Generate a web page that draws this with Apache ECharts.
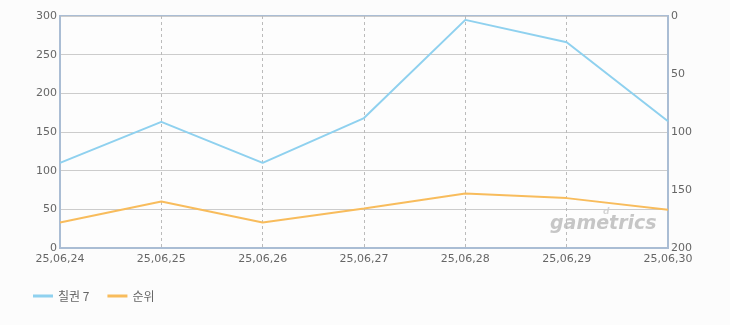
<!DOCTYPE html>
<html><head><meta charset="utf-8">
<script src="https://cdn.jsdelivr.net/npm/echarts@6/dist/echarts.min.js"></script>
<style>html,body{margin:0;padding:0;background:#fcfcfc}#c{width:730px;height:325px}</style>
</head><body><div id="c"></div>
<script>
const categories = ['25,06,24','25,06,25','25,06,26','25,06,27','25,06,28','25,06,29','25,06,30'];
const seriesNames = ['칠권 7', '순위'];
const salesValues = [110, 163, 110, 168, 295, 266, 164];
const rankValues = [178, 160, 178, 166, 153, 157, 167];
const leftTicks = [0, 300, 50];
const rightTicks = [0, 200, 50];

const chart = echarts.init(document.getElementById('c'));
const txt = {color:'#666', fontSize:11, fontFamily:'DejaVu Sans, sans-serif'};
chart.setOption({
  backgroundColor:'#fcfcfc',
  animation:false,
  grid:{left:60, right:62, top:16, bottom:77, show:true, backgroundColor:'#fdfdfd', borderColor:'#aabdd4', borderWidth:2},
  legend:{left:28, bottom:18, itemWidth:20, itemHeight:3, itemGap:18, icon:'rect',
    textStyle:{color:'#666', fontSize:12, fontFamily:'Noto Sans CJK KR, sans-serif'},
    data:seriesNames},
  graphic:[
    {type:'text', left:550, top:215, style:{text:'gametrics', fill:'#c6c6c6', font:'italic bold 19px DejaVu Sans, sans-serif'}},
    {type:'text', left:603, top:207, style:{text:'d', fill:'#d6d6d6', font:'italic bold 9px DejaVu Sans, sans-serif'}}
  ],
  xAxis:{type:'category', data:categories, boundaryGap:false,
    axisLine:{lineStyle:{color:'#aabdd4', width:2}}, axisTick:{show:false},
    axisLabel:{...txt, margin:6, showMinLabel:true, showMaxLabel:true, interval:0},
    splitLine:{show:true, lineStyle:{color:'#bbb', type:[3,3], width:1}}},
  yAxis:[
    {type:'value', min:leftTicks[0], max:leftTicks[1], interval:leftTicks[2], position:'left',
     axisLine:{show:true, lineStyle:{color:'#aabdd4', width:2}}, axisTick:{show:false},
     axisLabel:{...txt, margin:3}, splitLine:{lineStyle:{color:'#ccc', width:1}}},
    {type:'value', min:rightTicks[0], max:rightTicks[1], interval:rightTicks[2], inverse:true, position:'right',
     axisLine:{show:true, lineStyle:{color:'#aabdd4', width:2}}, axisTick:{show:false},
     axisLabel:{...txt, margin:3}, splitLine:{show:false}}
  ],
  series:[
    {name:seriesNames[0], type:'line', yAxisIndex:0, data:salesValues, symbol:'none',
     lineStyle:{color:'#8fd1ef', width:2}, itemStyle:{color:'#8fd1ef'}},
    {name:seriesNames[1], type:'line', yAxisIndex:1, data:rankValues, symbol:'none',
     lineStyle:{color:'#f8bc5c', width:2}, itemStyle:{color:'#f8bc5c'}}
  ]
});
</script></body></html>
